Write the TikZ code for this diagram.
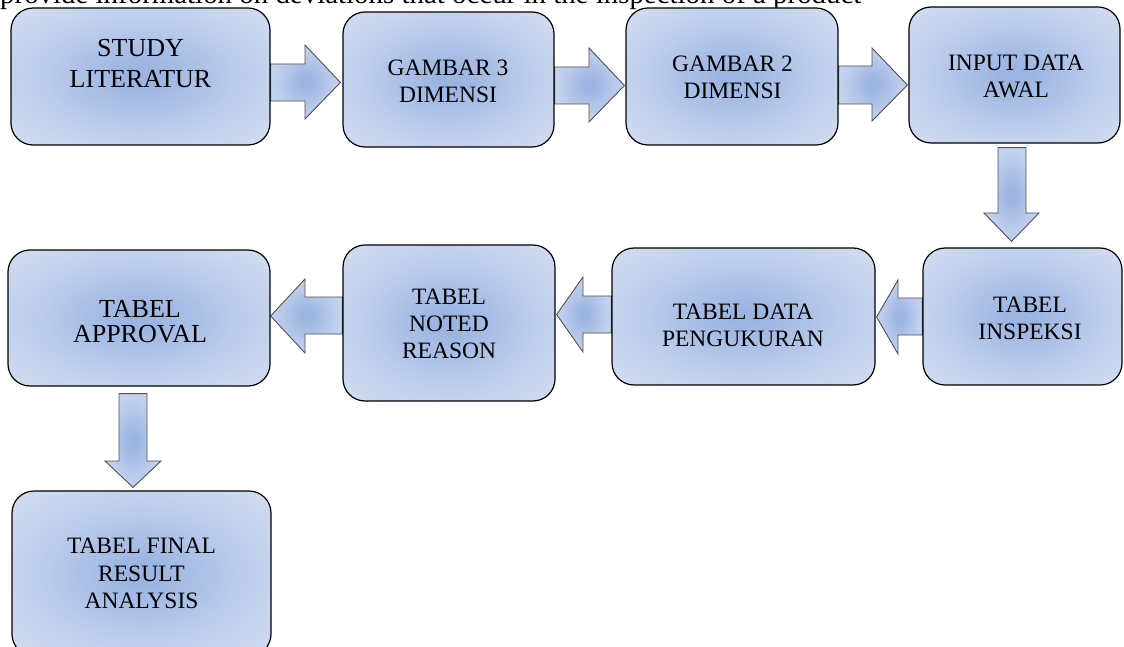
\documentclass[tikz,border=0pt]{standalone}
\usepackage{fontspec}
\setmainfont{Liberation Serif}
\usetikzlibrary{backgrounds,calc}
\definecolor{shc}{HTML}{9BB4E2}
\definecolor{shm}{HTML}{BDCDEC}
\definecolor{she}{HTML}{DDE5F4}
\definecolor{arrline}{HTML}{505050}
\pgfdeclareradialshading{boxshade}{\pgfpoint{0bp}{0bp}}{color(0bp)=(shc); color(3bp)=(shc); color(20bp)=(shm); color(42bp)=(she); color(50bp)=(she)}
\begin{document}
\begin{tikzpicture}[x=1pt,y=-1pt,
  box/.style={draw=black, line width=1.2pt, rounded corners=22pt, shading=boxshade, inner sep=0pt},
  arr/.style={draw=arrline, line width=0.9pt, shading=boxshade},
  lbl/.style={align=center, inner sep=0pt, font=\fontsize{23.5}{27.3}\selectfont},
  lblbig/.style={align=center, inner sep=0pt, font=\fontsize{26}{30.5}\selectfont}]
\useasboundingbox (0,0) rectangle (1124,647);
\clip (0,0) rectangle (1124,647);
% caption line (cut at the top)
\node[anchor=base west, inner sep=0pt, font=\fontsize{28.9}{30}\selectfont] (cap) at (0,3.5) {provide information on deviations that occur in the inspection of a product};
% boxes
\node[box, minimum width=259pt, minimum height=137pt] (b1) at (140.5,76.5) {};
\node[box, minimum width=211pt, minimum height=135pt] (b2) at (448.5,79.5) {};
\node[box, minimum width=212pt, minimum height=137pt] (b3) at (732,76.5) {};
\node[box, minimum width=211pt, minimum height=136pt] (b4) at (1014.5,75) {};
\node[box, minimum width=199pt, minimum height=137pt] (b5) at (1022.5,316.5) {};
\node[box, minimum width=263pt, minimum height=137pt] (b6) at (743.5,316.5) {};
\node[box, minimum width=212pt, minimum height=156pt] (b7) at (449,323) {};
\node[box, minimum width=262pt, minimum height=136pt] (b8) at (139,318) {};
\node[box, minimum width=259pt, minimum height=165pt] (b9) at (141.5,573.5) {};
% texts
\node[lblbig] (t1) at (140.5,63.5) {STUDY\\LITERATUR};
\node[lbl] (t2) at (448,81) {GAMBAR 3\\DIMENSI};
\node[lbl] (t3) at (732.5,77.5) {GAMBAR 2\\DIMENSI};
\node[lbl] (t4) at (1016,76.5) {INPUT DATA\\AWAL};
\node[lbl] (t5) at (1030,318.5) {TABEL\\INSPEKSI};
\node[lbl] (t6) at (743,325.5) {TABEL DATA\\PENGUKURAN};
\node[lbl] (t7) at (449,324) {TABEL\\NOTED\\REASON};
\node[align=center, inner sep=0pt, font=\fontsize{26}{25}\selectfont] (t8) at (140,322) {TABEL\\APPROVAL};
\node[lbl] (t9) at (141.5,573.5) {TABEL FINAL\\RESULT\\ANALYSIS};
% block arrows
\begin{scope}[on background layer]
\path[arr] (b1.east |- 0,64) -- (305,64) -- (305,45) -- ($(b2.west |- 0,82.5)+(-2,0)$) -- (305,119) -- (305,101) -- (b1.east |- 0,101) -- cycle;
\path[arr] (b2.east |- 0,67) -- (589,67) -- (589,48) -- ($(b3.west |- 0,85.5)+(-1,0)$) -- (589,122) -- (589,104) -- (b2.east |- 0,104) -- cycle;
\path[arr] (b3.east |- 0,66) -- (872,66) -- (872,48) -- ($(b4.west |- 0,85)+(-1,0)$) -- (872,121) -- (872,104) -- (b3.east |- 0,104) -- cycle;
\path[arr] ($(998,0 |- b4.south)+(0,4)$) -- (998,213) -- (984,213) -- ($(1011.5,0 |- b5.north)+(0,-6)$) -- (1039,213) -- (1026,213) -- ($(1026,0 |- b4.south)+(0,4)$) -- cycle;
\path[arr] (b5.west |- 0,298) -- (898,298) -- (898,280) -- ($(b6.east |- 0,317)+(1,0)$) -- (898,354) -- (898,335) -- (b5.west |- 0,335) -- cycle;
\path[arr] (b6.west |- 0,296) -- (583,296) -- (583,277) -- ($(b7.east |- 0,314.5)+(1,0)$) -- (583,352) -- (583,333) -- (b6.west |- 0,333) -- cycle;
\path[arr] (b7.west |- 0,297) -- (305,297) -- (305,279) -- (b8.east |- 0,316) -- (305,353) -- (305,334) -- (b7.west |- 0,334) -- cycle;
\path[arr] ($(119,0 |- b8.south)+(0,7)$) -- (119,461) -- (105,461) -- ($(133,0 |- b9.north)+(0,-3)$) -- (161,461) -- (147,461) -- ($(147,0 |- b8.south)+(0,7)$) -- cycle;
\end{scope}
\end{tikzpicture}
\end{document}
